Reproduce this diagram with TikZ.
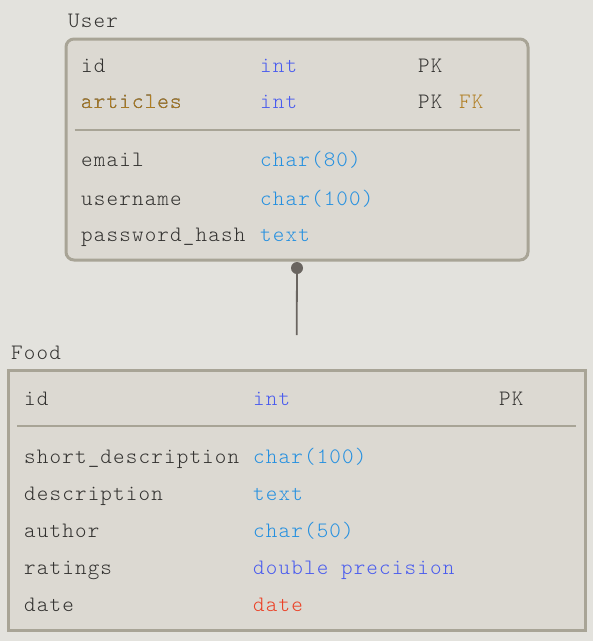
\documentclass[tikz,border=0pt]{standalone}
\usepackage{fontspec}
\usepackage{tikz}
\newfontfamily\erfont[LetterSpace=5.3]{Latin Modern Mono Light}
\definecolor{bg}{HTML}{E3E2DD}
\definecolor{boxfill}{HTML}{DCD9D2}
\definecolor{boxline}{HTML}{A8A496}
\definecolor{ink}{HTML}{333230}
\definecolor{tint}{HTML}{4A5CEE}
\definecolor{tchar}{HTML}{2590E0}
\definecolor{tdate}{HTML}{EC4025}
\definecolor{fkcol}{HTML}{B07E22}
\definecolor{dotcol}{HTML}{6A6560}

\begin{document}
\begin{tikzpicture}[x=1pt,y=-1pt]
        \tikzstyle{every node} = [inner sep=0pt, font=\erfont\fontsize{22}{26}\selectfont, text=ink]
        \tikzstyle{entity} = [draw=boxline, line width=3pt, fill=boxfill, minimum width=0pt]
        \tikzstyle{field} = [anchor=base west]
        \fill[bg] (0,0) rectangle (593,641);
        \useasboundingbox (0,0) rectangle (593,641);
        % User table
        \node[entity, rounded corners=8pt, minimum width=462pt, minimum height=221pt] (user) at (297,149.5) {};
        \node[field] (userlabel) at (68,27) {User};
        \draw[boxline, line width=2pt] (74.5,130) -- (520,130);
        \foreach \n/\name/\type/\c/\y in {id/id/int/tint/72, articles/articles/int/tint/108.5, email/email/char(80)/tchar/166.5, username/username/char(100)/tchar/205, hash/password\_hash/text/tchar/241.5}{
            \node[field] (u-\n) at (81,\y) {\name};
            \node[field, text=\c] (ut-\n) at (260,\y) {\type};
        }
        \node[field, text=fkcol] at (u-articles.base west) {articles};
        \node[field] (upk1) at (418,72) {PK};
        \node[field] (upk2) at (418,108.5) {PK};
        \node[field, text=fkcol] (ufk) at (459,108.5) {FK};
        % Food table
        \node[entity, minimum width=577pt, minimum height=260pt] (food) at (296.75,500) {};
        \node[field] (foodlabel) at (11,359) {Food};
        \draw[boxline, line width=2pt] (17,426) -- (576,426);
        \foreach \n/\name/\type/\c/\y in {id/id/int/tint/405, short/short\_description/char(100)/tchar/463, desc/description/text/tchar/500.7, author/author/char(50)/tchar/537.3, ratings/ratings/double precision/tint/574, date/date/date/tdate/611.7}{
            \node[field] (f-\n) at (24,\y) {\name};
            \node[field, text=\c] (ft-\n) at (253,\y) {\type};
        }
        \node[field] (fpk) at (499,405) {PK};
        % relation
        \node[circle, fill=dotcol, minimum size=12pt] (dot) at (297,268) {};
        \coordinate (tail) at (296.7,335);
        \draw[dotcol, line width=1.8pt] (dot) -- (tail);
\end{tikzpicture}
\end{document}
